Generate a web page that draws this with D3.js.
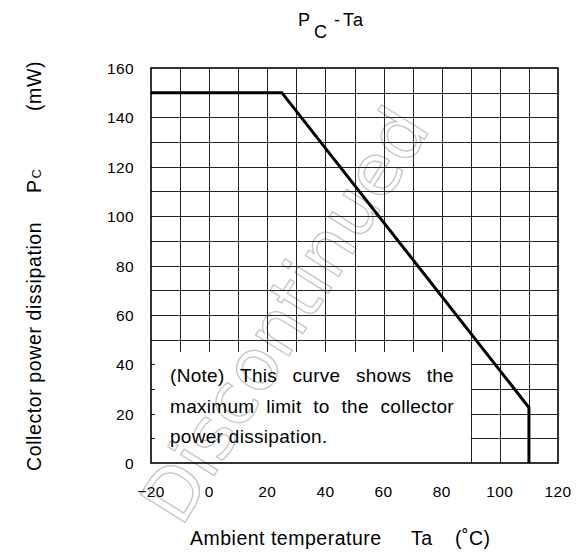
<!DOCTYPE html>
<html><head><meta charset="utf-8">
<script src="https://cdn.jsdelivr.net/npm/d3@7"></script>
<style>
body{margin:0;background:#fff;}
svg{display:block;font-family:"Liberation Sans",Arial,sans-serif;}
</style></head>
<body><svg id="c" width="582" height="558"></svg>
<script>
// Data
const temps = [-20, 25, 110, 110];          // Ta (°C)
const power = [150, 150, 22.5, 0];          // Pc (mW)
const xTicks = [-20, 0, 20, 40, 60, 80, 100, 120];
const yTicks = [0, 20, 40, 60, 80, 100, 120, 140, 160];
const xGrid = d3.range(-10, 120, 10);
const yGrid = d3.range(10, 160, 10);
const noteLines = ["(Note) This curve shows the", "maximum limit to the collector", "power dissipation."];
const noteBox = {x0: -20, x1: 90, y0: 0, y1: 45};

const svg = d3.select("#c");
const x = d3.scaleLinear().domain([-20, 120]).range([151, 558]);
const y = d3.scaleLinear().domain([0, 160]).range([463, 68]);

// watermark
svg.append("text")
  .attr("transform", "translate(285,315) rotate(-58)")
  .attr("text-anchor", "middle")
  .attr("dominant-baseline", "central")
  .attr("font-size", 72)
  .attr("font-family", "DejaVu Sans")
  .attr("fill", "none")
  .attr("stroke", "#c4c4c4")
  .attr("stroke-width", 1.3)
  .text("Discontinued");

const g = svg.append("g");
// grid
g.selectAll(".vg").data(xGrid).join("line")
  .attr("x1", d => Math.round(x(d)) + 0.5).attr("x2", d => Math.round(x(d)) + 0.5)
  .attr("y1", y(160)).attr("y2", d => d < noteBox.x1 ? y(noteBox.y1) : y(0))
  .attr("stroke", "#222").attr("stroke-width", 1);
g.selectAll(".hg").data(yGrid).join("line")
  .attr("y1", d => Math.round(y(d)) + 0.5).attr("y2", d => Math.round(y(d)) + 0.5)
  .attr("x1", d => d < noteBox.y1 ? x(noteBox.x1) : x(-20)).attr("x2", x(120))
  .attr("stroke", "#222").attr("stroke-width", 1);
// small inward ticks on left axis
g.selectAll(".lt").data(yGrid.filter(d => d < noteBox.y1)).join("line")
  .attr("y1", d => Math.round(y(d)) + 0.5).attr("y2", d => Math.round(y(d)) + 0.5)
  .attr("x1", x(-20)).attr("x2", x(-20) + 4)
  .attr("stroke", "#222");

// frame
g.append("rect").attr("x", x(-20)).attr("y", y(160))
  .attr("width", x(120) - x(-20)).attr("height", y(0) - y(160))
  .attr("fill", "none").attr("stroke", "#000").attr("stroke-width", 1.6);

// curve
const line = d3.line().x((d, i) => x(temps[i])).y((d, i) => y(power[i]));
g.append("path").attr("d", line(temps)).attr("fill", "none")
  .attr("stroke", "#000").attr("stroke-width", 3).attr("stroke-linejoin", "miter");

// axis tick labels
g.selectAll(".yl").data(yTicks).join("text")
  .attr("x", 134).attr("y", d => y(d) + 6)
  .attr("text-anchor", "end").attr("font-size", 15.5).attr("letter-spacing", 0.4)
  .text(d => d);
g.selectAll(".xl").data(xTicks).join("text")
  .attr("x", d => x(d)).attr("y", 497)
  .attr("text-anchor", "middle").attr("font-size", 15.5).attr("letter-spacing", 0.4)
  .text(d => d < 0 ? "\u2212" + Math.abs(d) : d);

// note text, justified
const nt = svg.append("g").attr("font-size", 19).attr("fill", "#000");
const left = 170, right = 454, baselines = [382, 413, 443];
noteLines.forEach((ln, i) => {
  const words = ln.split(" ");
  if (i === noteLines.length - 1) {
    nt.append("text").attr("x", left).attr("y", baselines[i]).attr("letter-spacing", 0.3).text(ln);
    return;
  }
  const els = words.map(w => nt.append("text").attr("y", baselines[i]).attr("letter-spacing", 0.3).text(w));
  const ws = els.map(e => e.node().getComputedTextLength());
  const total = d3.sum(ws);
  const gap = (right - left - total) / (words.length - 1);
  let cx = left;
  els.forEach((e, k) => { e.attr("x", cx); cx += ws[k] + gap; });
});

// title
const t = svg.append("g").attr("font-size", 18);
t.append("text").attr("x", 298).attr("y", 26).text("P");
t.append("text").attr("x", 314).attr("y", 38).text("C");
t.append("text").attr("x", 334).attr("y", 26).text("-");
t.append("text").attr("x", 343).attr("y", 26).attr("letter-spacing", 1).text("Ta");

// x axis title
const xt = svg.append("g").attr("font-size", 19.5).attr("letter-spacing", 0.5);
xt.append("text").attr("x", 190).attr("y", 545).text("Ambient temperature");
xt.append("text").attr("x", 411).attr("y", 545).text("Ta");
xt.append("text").attr("x", 455).attr("y", 545).text("(\u02DAC)");

// y axis title
const yt = svg.append("g").attr("font-size", 19.5).attr("letter-spacing", 0.6)
  .attr("transform", "translate(41,0) rotate(-90)");
yt.append("text").attr("x", -471).attr("y", 0).text("Collector power dissipation");
const pc = yt.append("text").attr("x", -193).attr("y", 0);
pc.append("tspan").text("P");
pc.append("tspan").attr("font-size", 13).attr("dx", 1).text("C");
yt.append("text").attr("x", -111).attr("y", 0).text("(mW)");
</script></body></html>
